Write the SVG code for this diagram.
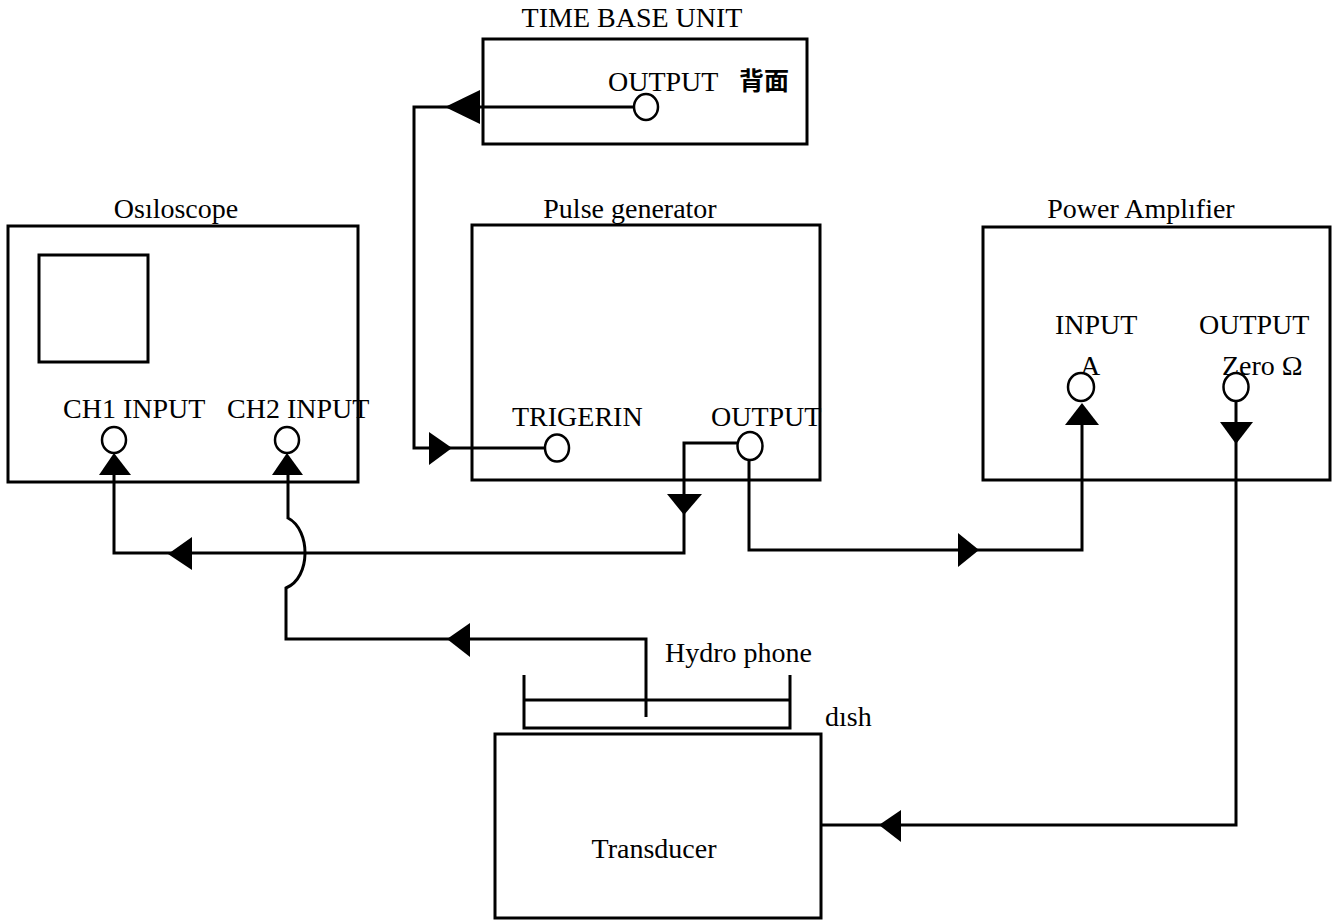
<svg xmlns="http://www.w3.org/2000/svg" width="1339" height="921" viewBox="0 0 1339 921">
<style>
  .box{fill:none;stroke:#000;stroke-width:3}
  .port{fill:#fff;stroke:#000;stroke-width:2.5}
  .wire{fill:none;stroke:#000;stroke-width:3}
  .ah{fill:#000;stroke:none}
  text{font-family:"Liberation Serif","Times New Roman",serif;font-size:28px;fill:#000}
  .cjk{font-family:"Noto Sans CJK JP","Noto Sans CJK SC",sans-serif;font-weight:bold;font-size:25px}
</style>
<rect width="1339" height="921" fill="#fff"/>

<g id="connectors">
  <!-- time base output to trigger in -->
  <path class="wire" d="M633,107 H414 V448 H545"/>
  <polygon class="ah" points="445,107 480,90 480,124"/>
  <polygon class="ah" points="452,448 429,432 429,465"/>
  <!-- pulse output to CH1 -->
  <path class="wire" d="M738,443 H684 V553 H114 V475"/>
  <polygon class="ah" points="684,515 667,494 702,494"/>
  <polygon class="ah" points="168,554 192,537 192,570"/>
  <polygon class="ah" points="114,453 99,475 131,475"/>
  <!-- pulse output to power amp input -->
  <path class="wire" d="M749,460 V550 H1082 V425"/>
  <polygon class="ah" points="979,550 958,533 958,567"/>
  <polygon class="ah" points="1082,403 1065,425 1099,425"/>
  <!-- power amp output to transducer -->
  <path class="wire" d="M1236,400 V825 H821"/>
  <polygon class="ah" points="1236,444 1220,422 1253,422"/>
  <polygon class="ah" points="879,825 901,810 901,842"/>
  <!-- hydrophone to CH2 (hop over) -->
  <path class="wire" d="M646,717 V639 H286 V588 C311,578 311,530 288,518 V475"/>
  <polygon class="ah" points="447,639 470,623 470,657"/>
  <polygon class="ah" points="287,453 272,475 303,475"/>
</g>

<g id="time-base-unit">
  <rect class="box" x="483" y="39" width="324" height="105"/>
  <text x="632" y="27" text-anchor="middle">TIME BASE UNIT</text>
  <text x="608" y="91">OUTPUT</text>
  <text class="cjk" x="739" y="90">背面</text>
  <ellipse class="port" cx="646" cy="107" rx="12" ry="13"/>
</g>

<g id="osciloscope">
  <rect class="box" x="8" y="226" width="350" height="256"/>
  <text x="176" y="218" text-anchor="middle">Osıloscope</text>
  <rect class="box" x="39" y="255" width="109" height="107"/>
  <text x="63" y="418">CH1 INPUT</text>
  <text x="227" y="418">CH2 INPUT</text>
  <ellipse class="port" cx="114" cy="440" rx="12" ry="13"/>
  <ellipse class="port" cx="287" cy="440" rx="12" ry="13"/>
</g>

<g id="pulse-generator">
  <rect class="box" x="472" y="225" width="348" height="255"/>
  <text x="630" y="218" text-anchor="middle">Pulse generator</text>
  <text x="512" y="426">TRIGERIN</text>
  <text x="711" y="426">OUTPUT</text>
  <ellipse class="port" cx="557" cy="448" rx="12" ry="13.5"/>
  <ellipse class="port" cx="750" cy="446" rx="12.5" ry="14"/>
</g>

<g id="power-amplifier">
  <rect class="box" x="983" y="227" width="347" height="253"/>
  <text x="1141" y="218" text-anchor="middle">Power Amplıfier</text>
  <text x="1055" y="334">INPUT</text>
  <text x="1199" y="334">OUTPUT</text>
  <text x="1080" y="375">A</text>
  <text x="1222" y="375">Zero  Ω</text>
  <ellipse class="port" cx="1081" cy="387" rx="13" ry="14"/>
  <ellipse class="port" cx="1236" cy="387" rx="12.5" ry="14"/>
</g>

<g id="dish">
  <path class="wire" d="M524,675 V728 H790 V675 M524,700 H790"/>
  <text x="665" y="662">Hydro phone</text>
  <text x="825" y="726">dısh</text>
</g>

<g id="transducer">
  <rect class="box" x="495" y="734" width="326" height="184"/>
  <text x="654" y="858" text-anchor="middle">Transducer</text>
</g>
</svg>
